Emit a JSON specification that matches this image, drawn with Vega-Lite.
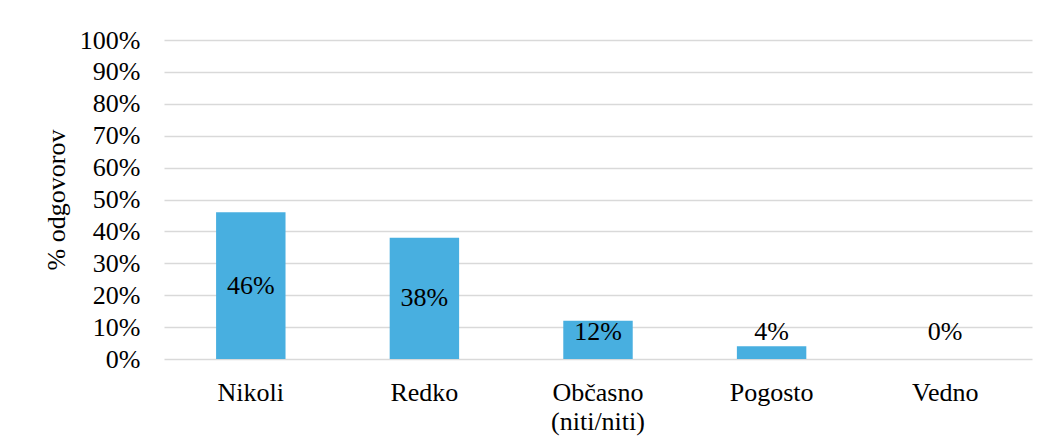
{
  "$schema": "https://vega.github.io/schema/vega-lite/v6.json",
  "autosize": {"type": "none"},
  "width": 868,
  "height": 319,
  "padding": {"left": 164, "top": 40, "right": 16, "bottom": 88},
  "background": "white",
  "config": {
    "font": "Liberation Serif",
    "view": {"stroke": null},
    "axisY": {
      "title": "% odgovorov",
      "titleFont": "Liberation Serif",
      "titleFontSize": 26,
      "titleFontWeight": "normal",
      "titleColor": "#000000",
      "titlePadding": 10,
      "labelFont": "Liberation Serif",
      "labelFontSize": 26,
      "labelColor": "#000000",
      "labelPadding": 24,
      "labelOverlap": false,
      "labelFlush": false,
      "ticks": false,
      "domain": false,
      "grid": true,
      "gridColor": "#d9d9d9",
      "gridWidth": 1.5
    }
  },
  "data": {
    "values": [
      {"kategorija": "Nikoli", "value": 46},
      {"kategorija": "Redko", "value": 38},
      {"kategorija": "Občasno\n(niti/niti)", "value": 12},
      {"kategorija": "Pogosto", "value": 4},
      {"kategorija": "Vedno", "value": 0}
    ]
  },
  "transform": [
    {"calculate": "max(datum.value / 2, 8.5)", "as": "labelPos"},
    {"calculate": "datum.value + '%'", "as": "labelText"}
  ],
  "encoding": {
    "x": {
      "field": "kategorija",
      "type": "nominal",
      "sort": null,
      "scale": {"paddingInner": 0.6, "paddingOuter": 0.3},
      "axis": {
        "title": null,
        "labelAngle": 0,
        "labelFont": "Liberation Serif",
        "labelFontSize": 26,
        "labelColor": "#000000",
        "labelPadding": 20,
        "labelLineHeight": 29,
        "labelExpr": "split(datum.label, '\\n')",
        "labelOverlap": false,
        "ticks": false,
        "domain": false,
        "grid": false
      }
    }
  },
  "layer": [
    {
      "mark": {"type": "bar", "color": "#48AFE0"},
      "encoding": {
        "y": {
          "field": "value",
          "type": "quantitative",
          "scale": {"domain": [0, 100], "nice": false},
          "axis": {
            "title": "% odgovorov",
            "values": [0, 10, 20, 30, 40, 50, 60, 70, 80, 90, 100],
            "labelExpr": "datum.value + '%'"
          }
        }
      }
    },
    {
      "mark": {"type": "text", "font": "Liberation Serif", "fontSize": 26, "color": "#000000", "baseline": "middle"},
      "encoding": {
        "y": {
          "field": "labelPos",
          "type": "quantitative",
          "scale": {"domain": [0, 100], "nice": false},
          "axis": {
            "title": "% odgovorov",
            "values": [0, 10, 20, 30, 40, 50, 60, 70, 80, 90, 100],
            "labelExpr": "datum.value + '%'"
          }
        },
        "text": {"field": "labelText", "type": "nominal"}
      }
    }
  ]
}
